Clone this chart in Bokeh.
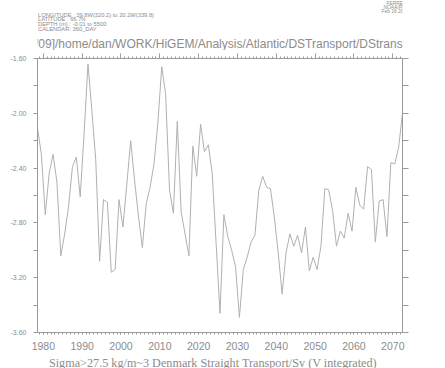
from bokeh.plotting import figure
from bokeh.layouts import column
from bokeh.models import LinearAxis, FixedTicker, Range1d, CustomLabelingPolicy
from bokeh.core.properties import value
from bokeh.embed import file_html
from bokeh.resources import INLINE

# ---- data -------------------------------------------------------------
first_year = 1978.5          # annual means, mid-year time stamps
transport = [
    -2.11, -2.30, -2.74, -2.44, -2.30, -2.50, -3.04, -2.88, -2.68, -2.39,
    -2.32, -2.61, -2.15, -1.64, -1.98, -2.34, -3.08, -2.63, -2.65, -3.16,
    -3.14, -2.63, -2.83, -2.52, -2.20, -2.49, -2.75, -2.98, -2.66, -2.54,
    -2.37, -2.07, -1.66, -1.86, -2.56, -2.73, -2.06, -2.72, -2.88, -3.04,
    -2.24, -2.46, -2.08, -2.28, -2.23, -2.44, -2.95, -3.46, -2.74, -2.90,
    -3.00, -3.12, -3.49, -3.14, -3.05, -2.94, -2.89, -2.56, -2.46, -2.54,
    -2.55, -2.76, -3.02, -3.32, -3.02, -2.88, -2.97, -2.89, -3.02, -2.83,
    -3.15, -3.05, -3.14, -2.97, -2.55, -2.56, -2.71, -2.97, -2.86, -2.91,
    -2.73, -2.86, -2.54, -2.67, -2.70, -2.39, -2.41, -2.94, -2.64, -2.63,
    -2.90, -2.36, -2.37, -2.25, -2.00,
]
years = [first_year + i for i in range(len(transport))]

x_decades = [1980, 1990, 2000, 2010, 2020, 2030, 2040, 2050, 2060, 2070]
x_minor = list(range(1979, 2073))
y_ticks = [-3.6, -3.2, -2.8, -2.4, -2.0, -1.6]
y_tick_labels = ["-3.60", "-3.20", "-2.80", "-2.40", "-2.00", "-1.60"]
y_minor = [-3.4, -3.0, -2.6, -2.2, -1.8]

title_path = "[16/02/09]/home/dan/WORK/HiGEM/Analysis/Atlantic/DSTransport/DStransport2.jnl"
header_left = ["LONGITUDE : 39.8W(320.2) to 20.2W(339.8)",
               "LATITUDE : 66.7N",
               "DEPTH (m) : -0.01 to 5500",
               "CALENDAR: 360_DAY"]
header_right = ["FERRET Ver. 6.1", "NOAA/PMEL TMAP", "Feb 16 2009 16:29:58"]
x_title = "Sigma>27.5 kg/m~3 Denmark Straight Transport/Sv (V integrated)"

# ---- styling / geometry -----------------------------------------------------
AX = "#9a9a9a"
TXT = "#8c8c8c"
W = 445
HEAD, MAIN, FOOT = 50, 304, 14      # strip heights (sum 368)
BL, BR = 37, 43                     # left / right frame borders
BT, BB = 8, 22                      # main plot top / bottom borders

def strip(height):
    f = figure(width=W, height=height, output_backend="svg", toolbar_location=None,
               x_range=Range1d(BL, W - BR), y_range=Range1d(height, 0),
               x_axis_type=None, y_axis_type=None,
               min_border_left=BL, min_border_right=BR,
               min_border_top=0, min_border_bottom=0)
    f.outline_line_color = None
    return f

def strip_text(f, xs, ys, texts, size, align="left", font="Liberation Sans"):
    f.text(x=xs, y=ys, text=texts, text_font=value(font),
           text_font_size=value(size), text_color=TXT,
           text_align=align, text_baseline="middle")

# header strip (pixel positions of the page texts)
head = strip(HEAD)
strip_text(head, [223], [43], [title_path], "12px", align="center")
strip_text(head, [37.5] * len(header_left), [14, 18.6, 23.4, 28.3],
           header_left, "5.75px")
strip_text(head, [386, 383, 381], [3, 7.2, 11.3], header_right, "4.9px")

# footer strip with the x-axis title
foot = strip(FOOT)
strip_text(foot, [212.5], [8.5], [x_title], "12.2px", align="center",
           font="Liberation Serif")

# ---- main plot ---------------------------------------------------------------
plot = figure(width=W, height=MAIN, output_backend="svg", toolbar_location=None,
              x_range=Range1d(years[0], years[-1]), y_range=Range1d(-3.6, -1.6),
              x_axis_type=None, y_axis_type=None,
              min_border_left=BL, min_border_right=BR,
              min_border_top=BT, min_border_bottom=BB)
plot.outline_line_color = None

no_labels = CustomLabelingPolicy(code="""
for (const i of indices)
  indices.unset(i)
""")

def style(ax, maj_out, min_out):
    ax.axis_line_color = AX
    ax.major_tick_line_color = AX
    ax.minor_tick_line_color = AX
    ax.major_tick_in = 0
    ax.minor_tick_in = 0
    ax.major_tick_out = maj_out
    ax.minor_tick_out = min_out
    ax.major_label_text_color = TXT
    ax.major_label_text_font = "Liberation Sans"

bottom = LinearAxis(ticker=FixedTicker(ticks=x_decades, minor_ticks=x_minor))
style(bottom, 2, 2)
bottom.major_label_text_font_size = "10.5px"
bottom.major_label_standoff = 7
plot.add_layout(bottom, "below")

top = LinearAxis(ticker=FixedTicker(ticks=x_decades, minor_ticks=x_minor),
                 major_label_policy=no_labels)
style(top, 5, 2)
top.major_label_text_font_size = "0px"
top.major_label_standoff = 0
plot.add_layout(top, "above")

left = LinearAxis(ticker=FixedTicker(ticks=y_ticks, minor_ticks=y_minor),
                  major_label_overrides=dict(zip(y_ticks, y_tick_labels)))
style(left, 4, 4)
left.major_label_text_font_size = "7px"
left.major_label_standoff = 7
plot.add_layout(left, "left")

right = LinearAxis(ticker=FixedTicker(ticks=y_ticks, minor_ticks=y_minor),
                   major_label_policy=no_labels)
style(right, 6, 6)
right.major_label_text_font_size = "0px"
right.major_label_standoff = 0
plot.add_layout(right, "right")

plot.line(years, transport, line_color="#b0b0b0", line_width=1)

p = column(head, plot, foot, spacing=0)
open("out.html", "w").write(file_html(p, INLINE))
